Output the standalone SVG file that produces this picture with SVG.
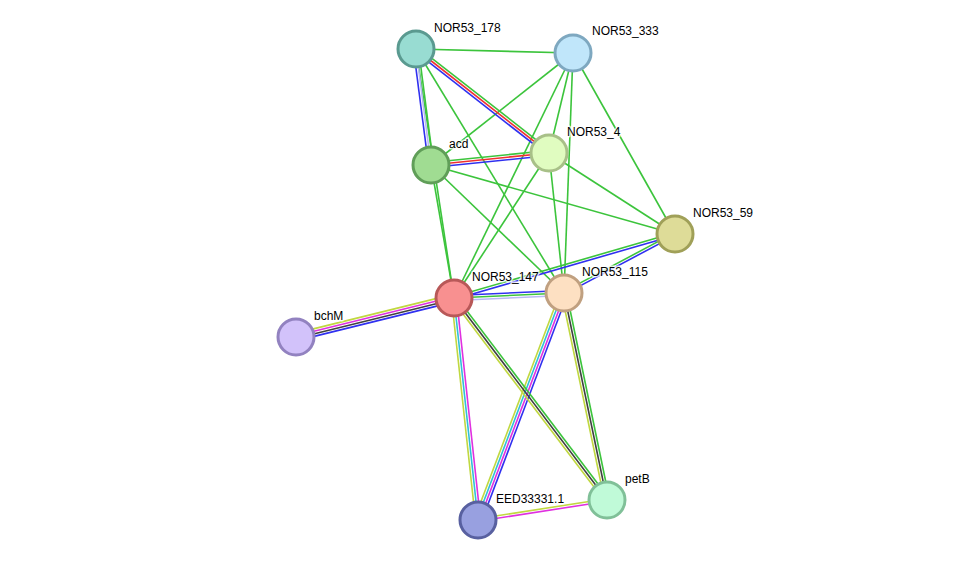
<svg xmlns="http://www.w3.org/2000/svg" width="975" height="566" viewBox="0 0 975 566">
<style>
line{stroke-width:1.6;fill:none}
.g{stroke:#3cc43c}.r{stroke:#f03030}.b{stroke:#3030f0}.l{stroke:#b8b8f4}.y{stroke:#c0d840}.m{stroke:#e030e0}.k{stroke:#404040}.c{stroke:#30c0d8}
circle{stroke-width:3}
text{font-family:"Liberation Sans",Arial,sans-serif;font-size:12px;fill:#000;stroke:#fff;stroke-width:3px;stroke-opacity:0.8;paint-order:stroke;stroke-linejoin:round}
</style>
<rect width="975" height="566" fill="#fff"/>
<g id="edges">
<line class="g" x1="416" y1="49" x2="573" y2="53"/>
<line class="g" x1="416" y1="49" x2="454" y2="298"/>
<line class="g" x1="416" y1="49" x2="564" y2="293"/>
<line class="g" x1="573" y1="53" x2="431" y2="165"/>
<line class="g" x1="573" y1="53" x2="549" y2="153"/>
<line class="g" x1="573" y1="53" x2="454" y2="298"/>
<line class="g" x1="573" y1="53" x2="564" y2="293"/>
<line class="g" x1="573" y1="53" x2="675" y2="234"/>
<line class="g" x1="431" y1="165" x2="454" y2="298"/>
<line class="g" x1="431" y1="165" x2="564" y2="293"/>
<line class="g" x1="431" y1="165" x2="675" y2="234"/>
<line class="g" x1="549" y1="153" x2="454" y2="298"/>
<line class="g" x1="549" y1="153" x2="564" y2="293"/>
<line class="g" x1="549" y1="153" x2="675" y2="234"/>
<!-- 178-4 -->
<line class="g" x1="417.54" y1="47.03" x2="550.54" y2="151.03"/>
<line class="r" x1="416" y1="49" x2="549" y2="153"/>
<line class="b" x1="414.46" y1="50.97" x2="547.46" y2="154.97"/>
<!-- acd-4 -->
<line class="g" x1="430.75" y1="162.51" x2="548.75" y2="150.51"/>
<line class="r" x1="431" y1="165" x2="549" y2="153"/>
<line class="b" x1="431.25" y1="167.49" x2="549.25" y2="155.49"/>
<!-- 178-acd -->
<line class="b" x1="413.52" y1="49.32" x2="428.52" y2="165.32"/>
<line class="l" x1="416" y1="49" x2="431" y2="165"/>
<line class="g" x1="418.48" y1="48.68" x2="433.48" y2="164.68"/>
<!-- 147-59 -->
<line class="g" x1="453.65" y1="296.8" x2="674.65" y2="232.8"/>
<line class="b" x1="454.35" y1="299.2" x2="675.35" y2="235.2"/>
<!-- 115-59 -->
<line class="g" x1="563.41" y1="291.9" x2="674.41" y2="232.9"/>
<line class="b" x1="564.59" y1="294.1" x2="675.59" y2="235.1"/>
<!-- 147-115 -->
<line class="b" x1="453.89" y1="295.5" x2="563.89" y2="290.5"/>
<line class="g" x1="454" y1="298" x2="564" y2="293"/>
<line class="l" x1="454.11" y1="300.5" x2="564.11" y2="295.5"/>
<!-- bchM-147 -->
<line class="y" x1="295.1" y1="333.36" x2="453.1" y2="294.36"/>
<line class="m" x1="295.7" y1="335.79" x2="453.7" y2="296.79"/>
<line class="k" x1="296.3" y1="338.21" x2="454.3" y2="299.21"/>
<line class="b" x1="296.9" y1="340.64" x2="454.9" y2="301.64"/>
<!-- 147-EED -->
<line class="y" x1="451.51" y1="298.27" x2="475.51" y2="520.27"/>
<line class="c" x1="454" y1="298" x2="478" y2="520"/>
<line class="m" x1="456.49" y1="297.73" x2="480.49" y2="519.73"/>
<!-- 115-EED -->
<line class="y" x1="560.49" y1="291.67" x2="474.49" y2="518.67"/>
<line class="c" x1="562.83" y1="292.56" x2="476.83" y2="519.56"/>
<line class="m" x1="565.17" y1="293.44" x2="479.17" y2="520.44"/>
<line class="b" x1="567.51" y1="294.33" x2="481.51" y2="521.33"/>
<!-- 147-petB -->
<line class="y" x1="452.01" y1="299.51" x2="605.01" y2="501.51"/>
<line class="k" x1="454" y1="298" x2="607" y2="500"/>
<line class="g" x1="455.99" y1="296.49" x2="608.99" y2="498.49"/>
<!-- 115-petB -->
<line class="y" x1="561.55" y1="293.51" x2="604.55" y2="500.51"/>
<line class="k" x1="564" y1="293" x2="607" y2="500"/>
<line class="g" x1="566.45" y1="292.49" x2="609.45" y2="499.49"/>
<!-- EED-petB -->
<line class="y" x1="477.81" y1="518.76" x2="606.81" y2="498.76"/>
<line class="m" x1="478.19" y1="521.24" x2="607.19" y2="501.24"/>
</g>
<g id="NOR53_178"><circle cx="416" cy="49" r="18" fill="#98dcd2" stroke="#5a9a90"/><text x="434" y="32">NOR53_178</text></g>
<g id="NOR53_333"><circle cx="573" cy="53" r="18" fill="#c0e6fa" stroke="#7ea8c0"/><text x="592" y="35">NOR53_333</text></g>
<g id="acd"><circle cx="431" cy="165" r="18" fill="#a0dc92" stroke="#609e58"/><text x="449" y="148">acd</text></g>
<g id="NOR53_4"><circle cx="549" cy="153" r="18" fill="#e0fcc0" stroke="#a8c088"/><text x="567" y="136">NOR53_4</text></g>
<g id="NOR53_59"><circle cx="675" cy="234" r="18" fill="#dedc98" stroke="#a0a058"/><text x="693" y="217">NOR53_59</text></g>
<g id="NOR53_147"><circle cx="454" cy="298" r="18" fill="#f89090" stroke="#b85858"/><text x="472" y="281">NOR53_147</text></g>
<g id="NOR53_115"><circle cx="564" cy="293" r="18" fill="#fde0c2" stroke="#c0a080"/><text x="582" y="276">NOR53_115</text></g>
<g id="bchM"><circle cx="296" cy="337" r="18" fill="#d2c2fa" stroke="#9282c0"/><text x="314" y="320">bchM</text></g>
<g id="EED33331.1"><circle cx="478" cy="520" r="18" fill="#98a0e0" stroke="#5860a0"/><text x="496" y="503">EED33331.1</text></g>
<g id="petB"><circle cx="607" cy="500" r="18" fill="#c0fad8" stroke="#80c098"/><text x="625" y="483">petB</text></g>
</svg>
